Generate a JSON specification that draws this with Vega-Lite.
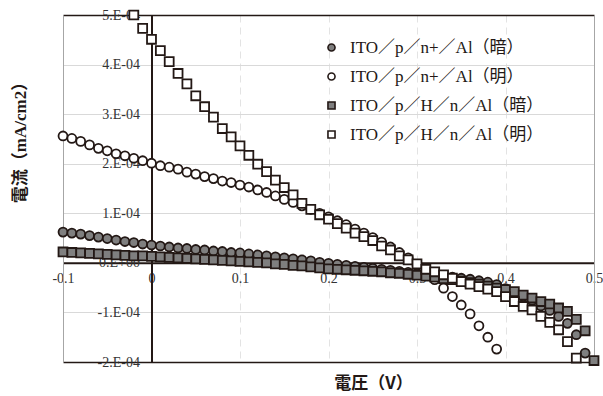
{
  "$schema": "https://vega.github.io/schema/vega-lite/v6.json",
  "width": 531,
  "height": 347,
  "autosize": "none",
  "padding": {"left": 63, "top": 15, "right": 9, "bottom": 34},
  "background": "white",
  "config": {"view": {"stroke": null}, "font": "Liberation Serif"},
  "data": {"values": [
    {"s":"a","v":-0.1,"j":0.62e-4},{"s":"a","v":-0.09,"j":0.60e-4},{"s":"a","v":-0.08,"j":0.58e-4},{"s":"a","v":-0.07,"j":0.55e-4},{"s":"a","v":-0.06,"j":0.52e-4},{"s":"a","v":-0.05,"j":0.49e-4},{"s":"a","v":-0.04,"j":0.46e-4},{"s":"a","v":-0.03,"j":0.43e-4},{"s":"a","v":-0.02,"j":0.41e-4},{"s":"a","v":-0.01,"j":0.38e-4},
    {"s":"a","v":0,"j":0.36e-4},{"s":"a","v":0.01,"j":0.34e-4},{"s":"a","v":0.02,"j":0.32e-4},{"s":"a","v":0.03,"j":0.30e-4},{"s":"a","v":0.04,"j":0.29e-4},{"s":"a","v":0.05,"j":0.27e-4},{"s":"a","v":0.06,"j":0.26e-4},{"s":"a","v":0.07,"j":0.24e-4},{"s":"a","v":0.08,"j":0.23e-4},{"s":"a","v":0.09,"j":0.21e-4},
    {"s":"a","v":0.1,"j":0.20e-4},{"s":"a","v":0.11,"j":0.18e-4},{"s":"a","v":0.12,"j":0.16e-4},{"s":"a","v":0.13,"j":0.14e-4},{"s":"a","v":0.14,"j":0.12e-4},{"s":"a","v":0.15,"j":0.10e-4},{"s":"a","v":0.16,"j":0.08e-4},{"s":"a","v":0.17,"j":0.06e-4},{"s":"a","v":0.18,"j":0.04e-4},{"s":"a","v":0.19,"j":0.01e-4},
    {"s":"a","v":0.2,"j":-0.01e-4},{"s":"a","v":0.21,"j":-0.03e-4},{"s":"a","v":0.22,"j":-0.05e-4},{"s":"a","v":0.23,"j":-0.07e-4},{"s":"a","v":0.24,"j":-0.09e-4},{"s":"a","v":0.25,"j":-0.11e-4},{"s":"a","v":0.26,"j":-0.13e-4},{"s":"a","v":0.27,"j":-0.15e-4},{"s":"a","v":0.28,"j":-0.17e-4},{"s":"a","v":0.29,"j":-0.19e-4},
    {"s":"a","v":0.3,"j":-0.21e-4},{"s":"a","v":0.31,"j":-0.23e-4},{"s":"a","v":0.32,"j":-0.25e-4},{"s":"a","v":0.33,"j":-0.27e-4},{"s":"a","v":0.34,"j":-0.29e-4},{"s":"a","v":0.35,"j":-0.31e-4},{"s":"a","v":0.36,"j":-0.33e-4},{"s":"a","v":0.37,"j":-0.36e-4},{"s":"a","v":0.38,"j":-0.39e-4},{"s":"a","v":0.39,"j":-0.44e-4},
    {"s":"a","v":0.4,"j":-0.52e-4},{"s":"a","v":0.41,"j":-0.60e-4},{"s":"a","v":0.42,"j":-0.68e-4},{"s":"a","v":0.43,"j":-0.76e-4},{"s":"a","v":0.44,"j":-0.87e-4},{"s":"a","v":0.45,"j":-0.96e-4},{"s":"a","v":0.46,"j":-1.08e-4},{"s":"a","v":0.47,"j":-1.22e-4},{"s":"a","v":0.48,"j":-1.45e-4},{"s":"a","v":0.49,"j":-1.82e-4},

    {"s":"b","v":-0.1,"j":2.56e-4},{"s":"b","v":-0.09,"j":2.51e-4},{"s":"b","v":-0.08,"j":2.45e-4},{"s":"b","v":-0.07,"j":2.38e-4},{"s":"b","v":-0.06,"j":2.31e-4},{"s":"b","v":-0.05,"j":2.26e-4},{"s":"b","v":-0.04,"j":2.20e-4},{"s":"b","v":-0.03,"j":2.16e-4},{"s":"b","v":-0.02,"j":2.11e-4},{"s":"b","v":-0.01,"j":2.06e-4},
    {"s":"b","v":0,"j":2.01e-4},{"s":"b","v":0.01,"j":1.96e-4},{"s":"b","v":0.02,"j":1.93e-4},{"s":"b","v":0.03,"j":1.89e-4},{"s":"b","v":0.04,"j":1.83e-4},{"s":"b","v":0.05,"j":1.79e-4},{"s":"b","v":0.06,"j":1.74e-4},{"s":"b","v":0.07,"j":1.70e-4},{"s":"b","v":0.08,"j":1.65e-4},{"s":"b","v":0.09,"j":1.62e-4},
    {"s":"b","v":0.1,"j":1.57e-4},{"s":"b","v":0.11,"j":1.53e-4},{"s":"b","v":0.12,"j":1.47e-4},{"s":"b","v":0.13,"j":1.42e-4},{"s":"b","v":0.14,"j":1.35e-4},{"s":"b","v":0.15,"j":1.28e-4},{"s":"b","v":0.16,"j":1.22e-4},{"s":"b","v":0.17,"j":1.15e-4},{"s":"b","v":0.18,"j":1.08e-4},{"s":"b","v":0.19,"j":1.00e-4},
    {"s":"b","v":0.2,"j":0.93e-4},{"s":"b","v":0.21,"j":0.85e-4},{"s":"b","v":0.22,"j":0.77e-4},{"s":"b","v":0.23,"j":0.68e-4},{"s":"b","v":0.24,"j":0.60e-4},{"s":"b","v":0.25,"j":0.51e-4},{"s":"b","v":0.26,"j":0.42e-4},{"s":"b","v":0.27,"j":0.32e-4},{"s":"b","v":0.28,"j":0.21e-4},{"s":"b","v":0.29,"j":0.10e-4},
    {"s":"b","v":0.3,"j":-0.03e-4},{"s":"b","v":0.31,"j":-0.18e-4},{"s":"b","v":0.32,"j":-0.34e-4},{"s":"b","v":0.33,"j":-0.51e-4},{"s":"b","v":0.34,"j":-0.68e-4},{"s":"b","v":0.35,"j":-0.85e-4},{"s":"b","v":0.36,"j":-1.03e-4},{"s":"b","v":0.37,"j":-1.27e-4},{"s":"b","v":0.38,"j":-1.50e-4},{"s":"b","v":0.39,"j":-1.74e-4},

    {"s":"c","v":-0.1,"j":0.22e-4},{"s":"c","v":-0.09,"j":0.21e-4},{"s":"c","v":-0.08,"j":0.20e-4},{"s":"c","v":-0.07,"j":0.19e-4},{"s":"c","v":-0.06,"j":0.18e-4},{"s":"c","v":-0.05,"j":0.17e-4},{"s":"c","v":-0.04,"j":0.16e-4},{"s":"c","v":-0.03,"j":0.15e-4},{"s":"c","v":-0.02,"j":0.14e-4},{"s":"c","v":-0.01,"j":0.14e-4},
    {"s":"c","v":0,"j":0.13e-4},{"s":"c","v":0.01,"j":0.12e-4},{"s":"c","v":0.02,"j":0.11e-4},{"s":"c","v":0.03,"j":0.10e-4},{"s":"c","v":0.04,"j":0.09e-4},{"s":"c","v":0.05,"j":0.08e-4},{"s":"c","v":0.06,"j":0.07e-4},{"s":"c","v":0.07,"j":0.06e-4},{"s":"c","v":0.08,"j":0.05e-4},{"s":"c","v":0.09,"j":0.04e-4},
    {"s":"c","v":0.1,"j":0.03e-4},{"s":"c","v":0.11,"j":0.02e-4},{"s":"c","v":0.12,"j":0.01e-4},{"s":"c","v":0.13,"j":0.0},{"s":"c","v":0.14,"j":-0.02e-4},{"s":"c","v":0.15,"j":-0.03e-4},{"s":"c","v":0.16,"j":-0.05e-4},{"s":"c","v":0.17,"j":-0.06e-4},{"s":"c","v":0.18,"j":-0.08e-4},{"s":"c","v":0.19,"j":-0.10e-4},
    {"s":"c","v":0.2,"j":-0.12e-4},{"s":"c","v":0.21,"j":-0.13e-4},{"s":"c","v":0.22,"j":-0.14e-4},{"s":"c","v":0.23,"j":-0.15e-4},{"s":"c","v":0.24,"j":-0.16e-4},{"s":"c","v":0.25,"j":-0.17e-4},{"s":"c","v":0.26,"j":-0.18e-4},{"s":"c","v":0.27,"j":-0.20e-4},{"s":"c","v":0.28,"j":-0.21e-4},{"s":"c","v":0.29,"j":-0.23e-4},
    {"s":"c","v":0.3,"j":-0.25e-4},{"s":"c","v":0.31,"j":-0.27e-4},{"s":"c","v":0.32,"j":-0.29e-4},{"s":"c","v":0.33,"j":-0.32e-4},{"s":"c","v":0.34,"j":-0.34e-4},{"s":"c","v":0.35,"j":-0.37e-4},{"s":"c","v":0.36,"j":-0.40e-4},{"s":"c","v":0.37,"j":-0.43e-4},{"s":"c","v":0.38,"j":-0.47e-4},{"s":"c","v":0.39,"j":-0.51e-4},
    {"s":"c","v":0.4,"j":-0.54e-4},{"s":"c","v":0.41,"j":-0.58e-4},{"s":"c","v":0.42,"j":-0.65e-4},{"s":"c","v":0.43,"j":-0.71e-4},{"s":"c","v":0.44,"j":-0.78e-4},{"s":"c","v":0.45,"j":-0.83e-4},{"s":"c","v":0.46,"j":-0.91e-4},{"s":"c","v":0.47,"j":-0.98e-4},{"s":"c","v":0.48,"j":-1.14e-4},{"s":"c","v":0.49,"j":-1.37e-4},{"s":"c","v":0.5,"j":-1.97e-4},

    {"s":"d","v":-0.02,"j":5.00e-4},{"s":"d","v":-0.01,"j":4.73e-4},
    {"s":"d","v":0,"j":4.51e-4},{"s":"d","v":0.01,"j":4.28e-4},{"s":"d","v":0.02,"j":4.06e-4},{"s":"d","v":0.03,"j":3.82e-4},{"s":"d","v":0.04,"j":3.61e-4},{"s":"d","v":0.05,"j":3.37e-4},{"s":"d","v":0.06,"j":3.15e-4},{"s":"d","v":0.07,"j":2.94e-4},{"s":"d","v":0.08,"j":2.71e-4},{"s":"d","v":0.09,"j":2.54e-4},
    {"s":"d","v":0.1,"j":2.36e-4},{"s":"d","v":0.11,"j":2.17e-4},{"s":"d","v":0.12,"j":1.99e-4},{"s":"d","v":0.13,"j":1.84e-4},{"s":"d","v":0.14,"j":1.67e-4},{"s":"d","v":0.15,"j":1.52e-4},{"s":"d","v":0.16,"j":1.37e-4},{"s":"d","v":0.17,"j":1.20e-4},{"s":"d","v":0.18,"j":1.08e-4},{"s":"d","v":0.19,"j":0.97e-4},
    {"s":"d","v":0.2,"j":0.88e-4},{"s":"d","v":0.21,"j":0.79e-4},{"s":"d","v":0.22,"j":0.70e-4},{"s":"d","v":0.23,"j":0.60e-4},{"s":"d","v":0.24,"j":0.53e-4},{"s":"d","v":0.25,"j":0.45e-4},{"s":"d","v":0.26,"j":0.34e-4},{"s":"d","v":0.27,"j":0.26e-4},{"s":"d","v":0.28,"j":0.14e-4},{"s":"d","v":0.29,"j":0.06e-4},
    {"s":"d","v":0.3,"j":-0.02e-4},{"s":"d","v":0.31,"j":-0.13e-4},{"s":"d","v":0.32,"j":-0.18e-4},{"s":"d","v":0.33,"j":-0.24e-4},{"s":"d","v":0.34,"j":-0.31e-4},{"s":"d","v":0.35,"j":-0.38e-4},{"s":"d","v":0.36,"j":-0.43e-4},{"s":"d","v":0.37,"j":-0.48e-4},{"s":"d","v":0.38,"j":-0.53e-4},{"s":"d","v":0.39,"j":-0.58e-4},
    {"s":"d","v":0.4,"j":-0.68e-4},{"s":"d","v":0.41,"j":-0.78e-4},{"s":"d","v":0.42,"j":-0.88e-4},{"s":"d","v":0.43,"j":-0.95e-4},{"s":"d","v":0.44,"j":-1.08e-4},{"s":"d","v":0.45,"j":-1.20e-4},{"s":"d","v":0.46,"j":-1.35e-4},{"s":"d","v":0.47,"j":-1.59e-4},{"s":"d","v":0.48,"j":-1.92e-4}
  ]},
  "layer": [
    {
      "mark": {"type": "point", "opacity": 0},
      "encoding": {
        "x": {"field": "v", "type": "quantitative",
          "scale": {"domain": [-0.1, 0.5], "nice": false, "zero": false},
          "axis": {"orient": "bottom", "values": [-0.1, 0, 0.1, 0.2, 0.3, 0.4, 0.5], "labels": false, "ticks": false,
            "domain": true, "domainColor": "#231815", "domainWidth": 1.5,
            "grid": true, "gridColor": "#e3e3e3", "gridDash": [7, 5], "gridWidth": 1,
            "title": "電圧（V）", "titleFont": "Noto Sans CJK JP", "titleFontSize": 17, "titleFontWeight": "bold", "titleColor": "#231815",
            "titleX": 310, "titleY": 21, "titleAlign": "center", "titleBaseline": "middle", "zindex": 0}},
        "y": {"field": "j", "type": "quantitative",
          "scale": {"domain": [-0.0002, 0.0005], "nice": false, "zero": false},
          "axis": {"orient": "left", "values": [-0.0002, -0.0001, 0, 0.0001, 0.0002, 0.0003, 0.0004, 0.0005], "labels": false, "ticks": false,
            "domain": true, "domainColor": "#a6a6a6", "domainWidth": 1,
            "grid": true, "gridColor": "#d9d9d9", "gridWidth": 1,
            "title": "電流（mA/cm2）", "titleFont": "Liberation Serif, Noto Sans CJK JP", "titleFontSize": 17, "titleFontWeight": "bold", "titleColor": "#231815",
            "titleX": -43, "titleY": 123, "titleAngle": 270, "titleAlign": "center", "titleBaseline": "middle", "zindex": 0}}
      }
    },
    {
      "mark": {"type": "point", "opacity": 0},
      "encoding": {
        "x": {"field": "v", "type": "quantitative",
          "scale": {"domain": [-0.1, 0.5], "nice": false, "zero": false},
          "axis": {"orient": "top", "labels": false, "ticks": false, "grid": false, "title": null,
            "domain": true, "domainColor": "#231815", "domainWidth": 1.5, "zindex": 0}},
        "y": {"field": "j", "type": "quantitative",
          "scale": {"domain": [-0.0002, 0.0005], "nice": false, "zero": false},
          "axis": {"orient": "right", "labels": false, "ticks": false, "grid": false, "title": null,
            "domain": true, "domainColor": "#a6a6a6", "domainWidth": 1, "zindex": 0}}
      }
    },
    {
      "mark": {"type": "point", "filled": true, "opacity": 1, "strokeWidth": 1.8, "size": 80},
      "encoding": {
        "x": {"field": "v", "type": "quantitative",
          "scale": {"domain": [-0.1, 0.5], "nice": false, "zero": false},
          "axis": {"orient": "bottom", "offset": -99.14, "values": [-0.1, 0, 0.1, 0.2, 0.3, 0.4, 0.5],
            "labelExpr": "datum.value == 0 ? '0' : (datum.value < 0 ? '-' : '') + format(abs(datum.value), '.1f')",
            "labelFont": "Liberation Serif", "labelFontSize": 14, "labelColor": "#333333", "labelPadding": 9,
            "labelFlush": false, "labelOverlap": false, "ticks": false, "grid": false, "title": null,
            "domain": true, "domainColor": "#231815", "domainWidth": 2, "zindex": 0}},
        "y": {"field": "j", "type": "quantitative",
          "scale": {"domain": [-0.0002, 0.0005], "nice": false, "zero": false},
          "axis": {"orient": "left", "offset": -88.5, "values": [-0.0002, -0.0001, 0, 0.0001, 0.0002, 0.0003, 0.0004, 0.0005],
            "labelExpr": "datum.value == 0 ? '0.E+00' : (datum.value < 0 ? '-' : '') + round(abs(datum.value) * 10000) + '.E-04'",
            "labelFont": "Liberation Serif", "labelFontSize": 14, "labelColor": "#333333", "labelPadding": 12,
            "labelFlush": false, "labelOverlap": false, "ticks": false, "grid": false, "title": null,
            "domain": true, "domainColor": "#231815", "domainWidth": 2, "zindex": 0}},
        "fill": {"field": "s", "type": "nominal",
          "scale": {"domain": ["a", "b", "c", "d"], "range": ["#7f7f7f", "#ffffff", "#7f7f7f", "#ffffff"]},
          "legend": {"orient": "none", "legendX": 260, "legendY": 24, "title": null, "padding": 0,
            "labelExpr": "datum.label == 'a' ? 'ITO／p／n+／Al（暗）' : datum.label == 'b' ? 'ITO／p／n+／Al（明）' : datum.label == 'c' ? 'ITO／p／H／n／Al（暗）' : 'ITO／p／H／n／Al（明）'",
            "labelFont": "Liberation Serif, Noto Sans CJK JP", "labelFontSize": 17, "labelColor": "#231815", "labelLimit": 400,
            "labelOffset": 10, "rowPadding": 11, "symbolSize": 50, "symbolStrokeWidth": 1.6}},
        "shape": {"field": "s", "type": "nominal",
          "scale": {"domain": ["a", "b", "c", "d"], "range": ["circle", "circle", "square", "square"]},
          "legend": {"orient": "none", "legendX": 260, "legendY": 24, "title": null, "padding": 0,
            "labelExpr": "datum.label == 'a' ? 'ITO／p／n+／Al（暗）' : datum.label == 'b' ? 'ITO／p／n+／Al（明）' : datum.label == 'c' ? 'ITO／p／H／n／Al（暗）' : 'ITO／p／H／n／Al（明）'",
            "labelFont": "Liberation Serif, Noto Sans CJK JP", "labelFontSize": 17, "labelColor": "#231815", "labelLimit": 400,
            "labelOffset": 10, "rowPadding": 11, "symbolSize": 50, "symbolStrokeWidth": 1.6}},
        "stroke": {"field": "s", "type": "nominal",
          "scale": {"domain": ["a", "b", "c", "d"], "range": ["#231815", "#231815", "#231815", "#231815"]},
          "legend": {"orient": "none", "legendX": 260, "legendY": 24, "title": null, "padding": 0,
            "labelExpr": "datum.label == 'a' ? 'ITO／p／n+／Al（暗）' : datum.label == 'b' ? 'ITO／p／n+／Al（明）' : datum.label == 'c' ? 'ITO／p／H／n／Al（暗）' : 'ITO／p／H／n／Al（明）'",
            "labelFont": "Liberation Serif, Noto Sans CJK JP", "labelFontSize": 17, "labelColor": "#231815", "labelLimit": 400,
            "labelOffset": 10, "rowPadding": 11, "symbolSize": 50, "symbolStrokeWidth": 1.6}}
      }
    }
  ],
  "resolve": {"axis": {"x": "independent", "y": "independent"}}
}
